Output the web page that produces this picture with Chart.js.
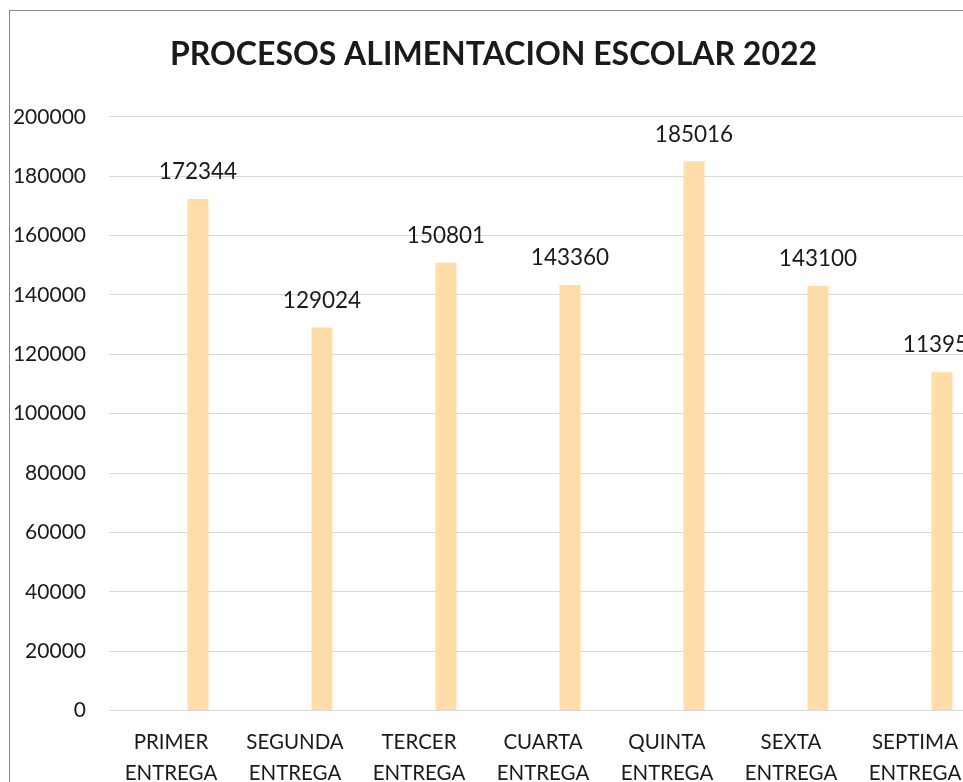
<!DOCTYPE html>
<html>
<head>
<meta charset="utf-8">
<script src="https://cdn.jsdelivr.net/npm/chart.js@4.4.1/dist/chart.umd.min.js"></script>
<style>
  html, body { margin: 0; padding: 0; background: #fff; overflow: hidden; }
  #marco {
    position: absolute; left: 9px; top: 10px;
    width: 1200px; height: 1000px;
    border-left: 1px solid #8a8a8a; border-top: 1px solid #8a8a8a;
  }
  #wrap { position: absolute; left: 10px; top: 11px; width: 1000px; height: 800px; }
</style>
</head>
<body>
<div id="marco"></div>
<div id="wrap"><canvas id="grafico" width="1000" height="800"></canvas></div>
<script>
// Datos del gráfico
const entregas = [
    ['PRIMER', 'ENTREGA'],
    ['SEGUNDA', 'ENTREGA'],
    ['TERCER', 'ENTREGA'],
    ['CUARTA', 'ENTREGA'],
    ['QUINTA', 'ENTREGA'],
    ['SEXTA', 'ENTREGA'],
    ['SEPTIMA', 'ENTREGA']
];
const raciones = [172344, 129024, 150801, 143360, 185016, 143100, 113952];
const vacia = [null, null, null, null, null, null, null];  // serie sin datos (desplaza las barras)
const ejeMin = 0;
const ejeMax = 200000;
const ejePaso = 20000;

const fuente = 'Lato, "Open Sans", sans-serif';

// Etiquetas de valor encima de cada barra
const etiquetasValor = {
    id: 'etiquetasValor',
    afterDatasetsDraw(chart) {
        const ctx = chart.ctx;
        const meta = chart.getDatasetMeta(1);
        ctx.save();
        ctx.font = '22.5px ' + fuente;
        ctx.fillStyle = '#1a1a1a';
        ctx.textAlign = 'center';
        ctx.textBaseline = 'middle';
        meta.data.forEach((bar, i) => {
            ctx.fillText(String(raciones[i]), bar.x, bar.y - 27);
        });
        ctx.restore();
    }
};

new Chart(document.getElementById('grafico'), {
    type: 'bar',
    data: {
        labels: entregas,
        datasets: [{
            label: '',
            data: vacia,
            backgroundColor: 'rgba(0,0,0,0)'
        }, {
            label: 'Raciones',
            data: raciones,
            backgroundColor: '#ffdca8'
        }]
    },
    options: {
        responsive: false,
        animation: false,
        events: [],
        categoryPercentage: 0.871,
        barPercentage: 0.39,
        layout: { padding: { left: 0, right: 33, top: 0, bottom: 0 } },
        plugins: {
            legend: { display: false },
            tooltip: { enabled: false },
            title: {
                display: true,
                text: 'PROCESOS ALIMENTACION ESCOLAR 2022',
                color: '#1a1a1a',
                font: { family: fuente, size: 32, weight: 'bold', lineHeight: 1.2 },
                padding: { top: 24.3, bottom: 43.1 }
            }
        },
        scales: {
            x: {
                grid: { display: false },
                border: { display: true, color: '#d9d9d9', width: 1 },
                ticks: {
                    color: '#1a1a1a',
                    maxRotation: 0,
                    autoSkip: false,
                    padding: 8.5,
                    font: { family: fuente, size: 20.5, lineHeight: 1.51 }
                },
                afterFit(scale) { scale.height = 100.5; }
            },
            y: {
                min: ejeMin,
                max: ejeMax,
                ticks: {
                    stepSize: ejePaso,
                    color: '#1a1a1a',
                    padding: 23,
                    font: { family: fuente, size: 21 },
                    callback: (v) => String(v)
                },
                grid: { color: '#d9d9d9', lineWidth: 1, drawTicks: false },
                border: { display: false },
                afterFit(scale) { scale.width = 99; }
            }
        }
    },
    plugins: [etiquetasValor]
});
</script>
</body>
</html>
